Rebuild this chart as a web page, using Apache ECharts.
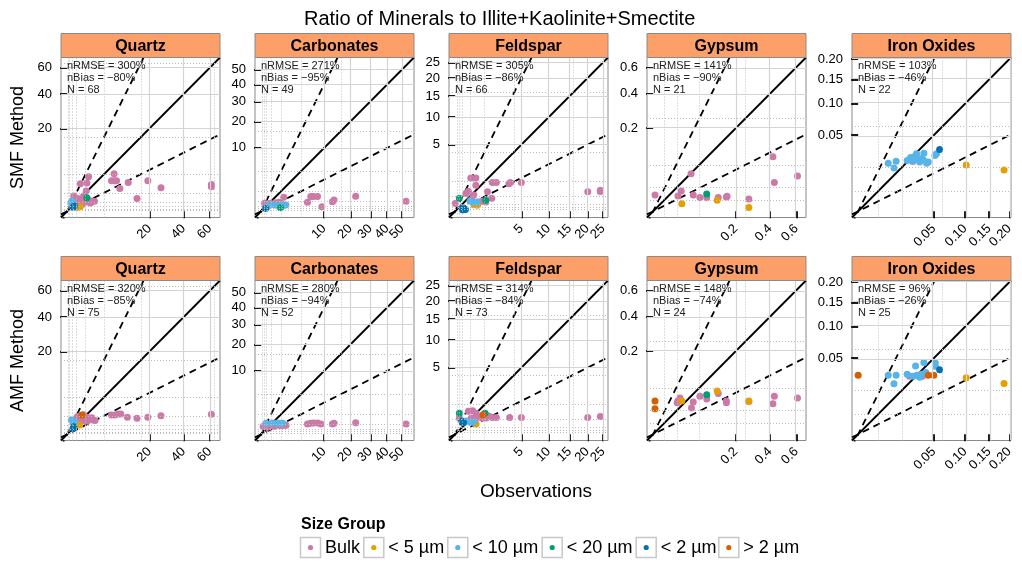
<!DOCTYPE html>
<html><head><meta charset="utf-8">
<script src="https://cdn.jsdelivr.net/npm/echarts@6/dist/echarts.min.js"></script>
<style>html,body{margin:0;padding:0;background:#fff}#c{width:1022px;height:562px}</style>
</head><body><div id="c"></div>
<script>
// ---------- data ----------
const minerals = ['Quartz', 'Carbonates', 'Feldspar', 'Gypsum', 'Iron Oxides'];
const methods = ['SMF Method', 'AMF Method'];
const groups = ['Bulk', '< 5 µm', '< 10 µm', '< 20 µm', '< 2 µm', '> 2 µm'];
const groupColors = ['#CC79A7', '#E69F00', '#56B4E9', '#009E73', '#0072B2', '#D55E00'];
const tickValues = [[20, 40, 60], [10, 20, 30, 40, 50], [5, 10, 15, 20, 25], [0.2, 0.4, 0.6], [0.05, 0.10, 0.15, 0.20]];
const tickLabels = [['20', '40', '60'], ['10', '20', '30', '40', '50'], ['5', '10', '15', '20', '25'], ['0.2', '0.4', '0.6'], ['0.05', '0.10', '0.15', '0.20']];
const axisMax = [63.5, 54.2, 24.6, 0.63, 0.188];
const refRatios = [4, 1, 0.25];
const statsSMF = [['300%', '−80%', 68], ['271%', '−95%', 49], ['305%', '−86%', 66], ['141%', '−90%', 21], ['103%', '−46%', 22]];
const statsAMF = [['320%', '−85%', 75], ['280%', '−94%', 52], ['314%', '−84%', 73], ['148%', '−74%', 24], ['96%', '−26%', 25]];

// [observed, predicted, group index]
const quartzSMF = [[1.35,3.5,0],[0.51,2.23,0],[1.15,2.34,0],[6.5,4.1,0],[5.8,2.7,0],[7.2,2.7,0],[6.6,2.7,0],[11,2.4,0],[8.2,1.5,0],[19.2,2.7,0],[26,1.6,0],[14.4,0.47,0],[61.4,2.1,0],[61.4,1.77,0],[1.08,1.2,0],[0.8,0.68,0],[1.8,0.31,0],[1.4,0.33,0],[2.2,0.3,0],[0.13,0.68,0],[0.3,0.5,0],[0.6,0.45,0],[0.9,0.4,0],[1.2,0.25,0],[0.4,0.2,0],[0.7,0.15,0],[1.6,0.2,0],[0.25,0.35,0],[0.07,0.31,2],[0.04,0.2,2],[0.1,0.15,2],[1.15,0.54,3],[0.15,0.08,4],[0.1,0.05,4],[0.5,0.06,1],[0.3,0.04,1]];
const carbonatesSMF = [[1.28,0.49,0],[5.4,0.2,0],[6.2,0.54,0],[6.9,0.54,0],[8.0,0.54,0],[9.3,0.05,0],[12.8,0.23,0],[13.4,0.32,0],[22.5,0.56,0],[52.9,0.25,0],[0.03,0.16,0],[0.2,0.16,0],[0.5,0.18,0],[0.8,0.2,0],[1.0,0.15,0],[0.1,0.08,0],[0.2,0.1,2],[0.5,0.1,2],[0.9,0.1,2],[1.3,0.09,2],[1.55,0.1,2],[0.1,0.06,2],[0.78,0.1,1],[0.95,0.03,3],[0.05,0.02,4]];
const feldsparSMF = [[0.28,1.25,0],[0.49,1.25,0],[0.49,0.76,0],[1.19,0.43,0],[1.58,0.93,0],[1.94,0.93,0],[3.3,0.86,0],[3.5,0.93,0],[5.0,0.93,0],[1.53,0.19,0],[20.1,0.43,0],[24.1,0.5,0],[24.1,0.44,0],[0,0.07,0],[0.13,0.36,0],[0.65,0.1,0],[0.85,0.12,0],[1.07,0.1,0],[0.3,0.15,0],[0.4,0.3,0],[0.2,0.45,0],[0.06,0.003,4],[0.08,0.003,4],[0.1,0.005,4],[0.05,0.01,4],[0.12,0.004,4],[0.34,0.1,2],[0.25,0.12,2],[0.45,0.09,2],[0.55,0.1,2],[0.57,0.04,1],[0.4,0.05,1],[0.02,0.19,3],[1.07,0.14,3]];
const gypsumSMF = [[0.0001,0.0076,0],[0.042,0.041,0],[0.023,0.012,0],[0.018,0.0067,0],[0.047,0.0076,0],[0.064,0.0056,0],[0.084,0.0056,0],[0.124,0.0056,0],[0.157,0.006,0],[0.16,0.0065,0],[0.268,0.0043,0],[0.42,0.086,0],[0.43,0.024,0],[0.61,0.036,0],[0.084,0.0086,3],[0.024,0.0017,1],[0.12,0.0036,1],[0.268,0.0004,1]];
const ironSMF = [[0.0079,0.0199,2],[0.0126,0.0216,2],[0.0112,0.0162,2],[0.021,0.0222,2],[0.026,0.022,2],[0.029,0.024,2],[0.033,0.021,2],[0.035,0.024,2],[0.0377,0.0292,2],[0.041,0.02,2],[0.043,0.021,2],[0.0298,0.0285,2],[0.0514,0.0269,2],[0.0536,0.0285,2],[0.024,0.025,2],[0.037,0.023,2],[0.028,0.026,2],[0.026,0.0215,0],[0.033,0.0222,0],[0.058,0.033,4],[0.102,0.0185,1],[0.186,0.0147,1]];

const quartzAMF = [[5.8,1.09,0],[6.7,1.09,0],[7.7,1.2,0],[8.5,1.2,0],[10.7,0.84,0],[14.4,0.74,0],[19.2,0.84,0],[26,1.0,0],[61.4,1.17,0],[0.3,0.9,0],[0.5,1.0,0],[0.8,1.1,0],[1.0,0.9,0],[1.3,0.8,0],[1.6,0.7,0],[2.0,0.6,0],[2.3,0.55,0],[0.6,0.5,0],[0.9,0.6,0],[1.2,0.5,0],[0.2,0.6,0],[0.4,0.7,0],[1.8,0.8,0],[0.05,0.6,2],[0.1,0.4,2],[0.15,0.5,2],[0.65,1.09,5],[0.13,0.17,4],[0.1,0.1,4],[0.46,0.25,1]];
const carbonatesAMF = [[5.4,0.27,0],[6.2,0.3,0],[6.9,0.32,0],[8.0,0.32,0],[9.0,0.27,0],[12.8,0.27,0],[13.4,0.3,0],[22.5,0.33,0],[52.9,0.27,0],[0.01,0.15,0],[0.2,0.2,0],[0.4,0.15,0],[0.7,0.2,0],[1.0,0.18,0],[1.3,0.2,0],[0.1,0.12,0],[1.56,0.2,0],[0.06,0.3,2],[0.3,0.32,2],[0.6,0.3,2],[0.9,0.3,2],[1.17,0.3,2],[0.78,0.3,1]];
const feldsparAMF = [[1.58,0.32,0],[1.94,0.32,0],[3.4,0.32,0],[5.0,0.32,0],[20.1,0.32,0],[24.1,0.36,0],[0.2,0.6,0],[0.35,0.62,0],[0.5,0.5,0],[0.65,0.35,0],[0.8,0.3,0],[1.1,0.3,0],[0.45,0.25,0],[0.3,0.3,0],[1.3,0.38,0],[0.02,0.3,0],[0.89,0.43,5],[1.02,0.5,3],[0.02,0.5,3],[0.05,0.2,4],[0.08,0.15,4],[0.28,0.16,2],[0.15,0.2,2],[0.4,0.18,2],[0.5,0.12,1]];
const gypsumAMF = [[0.0001,0.032,5],[0.0001,0.019,5],[0.021,0.038,0],[0.018,0.032,0],[0.017,0.029,0],[0.047,0.03,0],[0.043,0.02,0],[0.064,0.042,0],[0.084,0.036,0],[0.124,0.048,0],[0.157,0.032,0],[0.157,0.029,0],[0.268,0.031,0],[0.42,0.027,0],[0.43,0.042,0],[0.61,0.038,0],[0.024,0.032,1],[0.12,0.054,1],[0.268,0.032,1],[0.084,0.045,3]];
const ironAMF = [[0.0,0.0302,5],[0.043,0.030,5],[0.050,0.030,5],[0.0079,0.0302,2],[0.0126,0.0302,2],[0.0112,0.022,2],[0.021,0.031,2],[0.0288,0.0403,2],[0.0377,0.0444,2],[0.03,0.030,2],[0.035,0.031,2],[0.04,0.033,2],[0.033,0.028,2],[0.026,0.029,2],[0.052,0.044,2],[0.052,0.040,2],[0.023,0.029,0],[0.036,0.029,0],[0.058,0.036,4],[0.102,0.0276,1],[0.186,0.0222,1]];

// ---------- layout ----------
const FONT = '"Liberation Sans", Arial, Helvetica, sans-serif';
const lefts = [61, 255, 449, 647, 852];
const tops = [57.5, 280.5];
const PW = 159, PH = 160, STRIP = 24;
const panels = [[quartzSMF, carbonatesSMF, feldsparSMF, gypsumSMF, ironSMF], [quartzAMF, carbonatesAMF, feldsparAMF, gypsumAMF, ironAMF]];
const stats = [statsSMF, statsAMF];

const grids = [], xAxes = [], yAxes = [], series = [], graphics = [];
let idx = 0;
for (let r = 0; r < 2; r++) {
  for (let c = 0; c < 5; c++) {
    const M = Math.sqrt(axisMax[c]);
    const lo = -0.042 * M, hi = 1.042 * M;
    grids.push({left: lefts[c], top: tops[r], width: PW, height: PH, show: true, borderColor: '#8a8a8a', borderWidth: 1, backgroundColor: 'transparent', containLabel: false, outerBoundsMode: 'none'});
    const tv = tickValues[c].map(Math.sqrt);
    const fmt = (v) => { for (let j = 0; j < tv.length; j++) if (Math.abs(tv[j] - v) < 1e-9) return tickLabels[c][j]; return ''; };
    const tick = {show: true, inside: false, customValues: tv, length: 7, lineStyle: {color: '#000', width: 1.8}};
    const lab = {show: true, formatter: fmt, fontSize: 13, color: '#000', fontFamily: FONT, margin: 9, hideOverlap: false, showMinLabel: true, showMaxLabel: true};
    // x labels split over two coincident axes so that close rotated labels are not dropped
    const n = tv.length;
    const setA = tv.filter((v, j) => (n - 1 - j) % 2 === 0);
    const setB = tv.filter((v, j) => (n - 1 - j) % 2 === 1);
    xAxes.push({gridIndex: idx, type: 'value', position: 'bottom', min: lo, max: hi, axisLine: {show: false}, splitLine: {show: false}, axisTick: tick,
      axisLabel: Object.assign({}, lab, {rotate: 45, customValues: setA})});
    xAxes.push({gridIndex: idx, type: 'value', position: 'bottom', min: lo, max: hi, axisLine: {show: false}, splitLine: {show: false}, axisTick: {show: false},
      axisLabel: Object.assign({}, lab, {rotate: 45, show: setB.length > 0, customValues: setB.length ? setB : tv})});
    yAxes.push({gridIndex: idx, type: 'value', min: lo, max: hi, axisLine: {show: false}, splitLine: {show: false}, axisTick: tick, axisLabel: Object.assign({}, lab, {customValues: tv})});
    const xi = 2 * idx;
    // minor dotted grid at powers of 4 (powers of 2 in sqrt space)
    const minor = [];
    for (let k = -4; k <= 3; k++) { const s = Math.pow(2, k); if (s < hi) minor.push(s); }
    series.push({type: 'line', xAxisIndex: xi, yAxisIndex: idx, data: [], silent: true, z: 1,
      markLine: {silent: true, symbol: ['none', 'none'], animation: false, label: {show: false}, emphasis: {disabled: true},
        lineStyle: {color: '#bcbcbc', width: 1, type: [1, 2]}, data: minor.flatMap(v => [{xAxis: v}, {yAxis: v}])}});
    series.push({type: 'line', xAxisIndex: xi, yAxisIndex: idx, data: [], silent: true, z: 1,
      markLine: {silent: true, symbol: ['none', 'none'], animation: false, label: {show: false}, emphasis: {disabled: true},
        lineStyle: {color: '#d4d4d4', width: 1.2, type: 'solid'}, data: tv.flatMap(v => [{xAxis: v}, {yAxis: v}])}});
    // reference lines
    refRatios.forEach((ratio) => {
      const s = Math.sqrt(ratio);
      series.push({type: 'line', xAxisIndex: xi, yAxisIndex: idx, data: [[lo, s * lo], [hi, s * hi]], symbol: 'none', silent: true, z: 2, clip: true, animation: false,
        lineStyle: {color: '#000', width: 1.8, type: ratio === 1 ? 'solid' : [7, 5]}});
    });
    // points
    groups.forEach((g, gi) => {
      const pts = panels[r][c].filter(p => p[2] === gi).map(p => [Math.sqrt(p[0]), Math.sqrt(p[1])]);
      if (pts.length) series.push({type: 'scatter', name: g, xAxisIndex: xi, yAxisIndex: idx, data: pts, symbolSize: 7, silent: true, z: 3, itemStyle: {color: groupColors[gi], opacity: 1}});
    });
    // strip
    graphics.push({type: 'rect', shape: {x: lefts[c], y: tops[r] - STRIP, width: PW, height: STRIP}, style: {fill: '#FD9F68', stroke: '#8a8a8a', lineWidth: 1}, z: 10});
    graphics.push({type: 'text', x: lefts[c] + PW / 2, y: tops[r] - STRIP / 2 + 1, z: 11,
      style: {text: minerals[c], font: `bold 16px ${FONT}`, fill: '#000', align: 'center', verticalAlign: 'middle', textAlign: 'center', textVerticalAlign: 'middle'}});
    // stats text
    const st = stats[r][c];
    graphics.push({type: 'text', x: lefts[c] + 6, y: tops[r] + 3, z: 11,
      style: {text: `nRMSE = ${st[0]}\nnBias = ${st[1]}\nN = ${st[2]}`, font: `11px ${FONT}`, fill: '#222', lineHeight: 11.7, align: 'left', verticalAlign: 'top', textAlign: 'left', textVerticalAlign: 'top'}});
    idx++;
  }
}

// axis titles
graphics.push({type: 'text', x: 18, y: tops[0] + PH / 2, rotation: Math.PI / 2,
  style: {text: methods[0], font: `18px ${FONT}`, fill: '#000', align: 'center', verticalAlign: 'middle', textAlign: 'center', textVerticalAlign: 'middle'}});
graphics.push({type: 'text', x: 18, y: tops[1] + PH / 2, rotation: Math.PI / 2,
  style: {text: methods[1], font: `18px ${FONT}`, fill: '#000', align: 'center', verticalAlign: 'middle', textAlign: 'center', textVerticalAlign: 'middle'}});
graphics.push({type: 'text', x: 536, y: 492,
  style: {text: 'Observations', font: `19px ${FONT}`, fill: '#000', align: 'center', verticalAlign: 'middle', textAlign: 'center', textVerticalAlign: 'middle'}});

// legend
graphics.push({type: 'text', x: 301, y: 525,
  style: {text: 'Size Group', font: `bold 16px ${FONT}`, fill: '#000', align: 'left', verticalAlign: 'middle', textAlign: 'left', textVerticalAlign: 'middle'}});
const boxX = [300, 363.3, 447.3, 541.7, 635.7, 718.3];
groups.forEach((g, gi) => {
  graphics.push({type: 'rect', shape: {x: boxX[gi] + 0.5, y: 537.5, width: 20, height: 20}, style: {fill: '#fff', stroke: '#c8c8c8', lineWidth: 1.5}});
  graphics.push({type: 'circle', shape: {cx: boxX[gi] + 10.5, cy: 547.5, r: 2.6}, style: {fill: groupColors[gi]}});
  graphics.push({type: 'text', x: boxX[gi] + 25, y: 548,
    style: {text: g, font: `18px ${FONT}`, fill: '#000', align: 'left', verticalAlign: 'middle', textAlign: 'left', textVerticalAlign: 'middle'}});
});

const chart = echarts.init(document.getElementById('c'), null, {renderer: 'canvas'});
chart.setOption({
  animation: false,
  backgroundColor: '#fff',
  title: {text: 'Ratio of Minerals to Illite+Kaolinite+Smectite', left: 299, top: 4, textStyle: {fontSize: 20, fontWeight: 'normal', color: '#000', fontFamily: FONT}},
  grid: grids, xAxis: xAxes, yAxis: yAxes, series: series, graphic: {elements: graphics}
});
</script></body></html>
